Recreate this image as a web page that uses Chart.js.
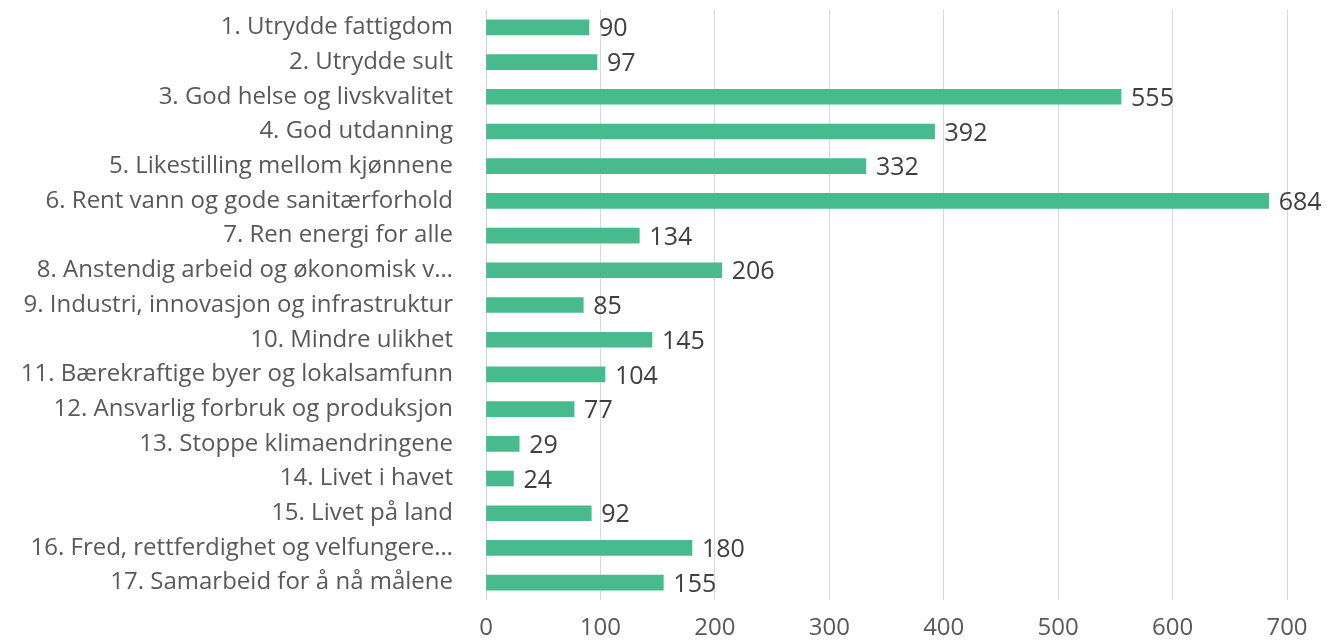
<!DOCTYPE html>
<html>
<head>
<meta charset="utf-8">
<script src="https://cdn.jsdelivr.net/npm/chart.js@4"></script>
<style>
    body { margin: 0; background: #fff; }
    #wrap { width: 1336px; height: 644px; position: relative; }
</style>
</head>
<body>
<div id="wrap"><canvas id="goalsChart"></canvas></div>
<script>
const categories = [
    '1. Utrydde fattigdom',
    '2. Utrydde sult',
    '3. God helse og livskvalitet',
    '4. God utdanning',
    '5. Likestilling mellom kjønnene',
    '6. Rent vann og gode sanitærforhold',
    '7. Ren energi for alle',
    '8. Anstendig arbeid og økonomisk v…',
    '9. Industri, innovasjon og infrastruktur',
    '10. Mindre ulikhet',
    '11. Bærekraftige byer og lokalsamfunn',
    '12. Ansvarlig forbruk og produksjon',
    '13. Stoppe klimaendringene',
    '14. Livet i havet',
    '15. Livet på land',
    '16. Fred, rettferdighet og velfungere…',
    '17. Samarbeid for å nå målene',
];
const counts = [90, 97, 555, 392, 332, 684, 134, 206, 85, 145, 104, 77, 29, 24, 92, 180, 155];
const xTicks = [0, 100, 200, 300, 400, 500, 600, 700];

const FONT = '"Open Sans", "DejaVu Sans", sans-serif';

// draws the number right of each bar
const valueLabels = {
    id: 'valueLabels',
    afterDatasetsDraw(chart) {
        const ctx = chart.ctx;
        const meta = chart.getDatasetMeta(0);
        ctx.save();
        ctx.font = '25px ' + FONT;
        ctx.fillStyle = '#404040';
        ctx.textAlign = 'left';
        ctx.textBaseline = 'middle';
        meta.data.forEach((bar, i) => {
            ctx.fillText(String(counts[i]), bar.x + 10, bar.y + 2);
        });
        ctx.restore();
    },
};

new Chart('goalsChart', {
    type: 'bar',
    data: {
        labels: categories,
        datasets: [
            {
                data: counts,
                backgroundColor: 'rgb(72, 187, 142)',
                borderWidth: 0,
                barThickness: 15,
            },
        ],
    },
    options: {
        indexAxis: 'y',
        responsive: true,
        maintainAspectRatio: false,
        animation: false,
        layout: { padding: { top: 10, right: 49, left: 0, bottom: 0 } },
        plugins: {
            legend: { display: false },
            tooltip: { enabled: false },
        },
        scales: {
            x: {
                min: 0,
                max: 700,
                afterBuildTicks: (scale) => {
                    scale.ticks = xTicks.map((v) => ({ value: v }));
                },
                grid: {
                    color: (c) => (c.tick && c.tick.value === 0 ? '#c9d1e8' : '#d9d9d9'),
                    lineWidth: 1,
                    drawTicks: false,
                },
                border: { display: false },
                ticks: {
                    padding: 14,
                    color: '#595959',
                    font: { family: FONT, size: 24 },
                },
                afterFit: (scale) => {
                    scale.height = 44;
                },
            },
            y: {
                grid: { display: false, drawTicks: false },
                border: { display: false },
                ticks: {
                    padding: 33,
                    color: '#595959',
                    autoSkip: false,
                    font: { family: FONT, size: 24 },
                },
                afterFit: (scale) => {
                    scale.width = 486;
                    scale.paddingTop = 0;
                    scale.paddingBottom = 0;
                },
            },
        },
    },
    plugins: [valueLabels],
});
</script>
</body>
</html>
